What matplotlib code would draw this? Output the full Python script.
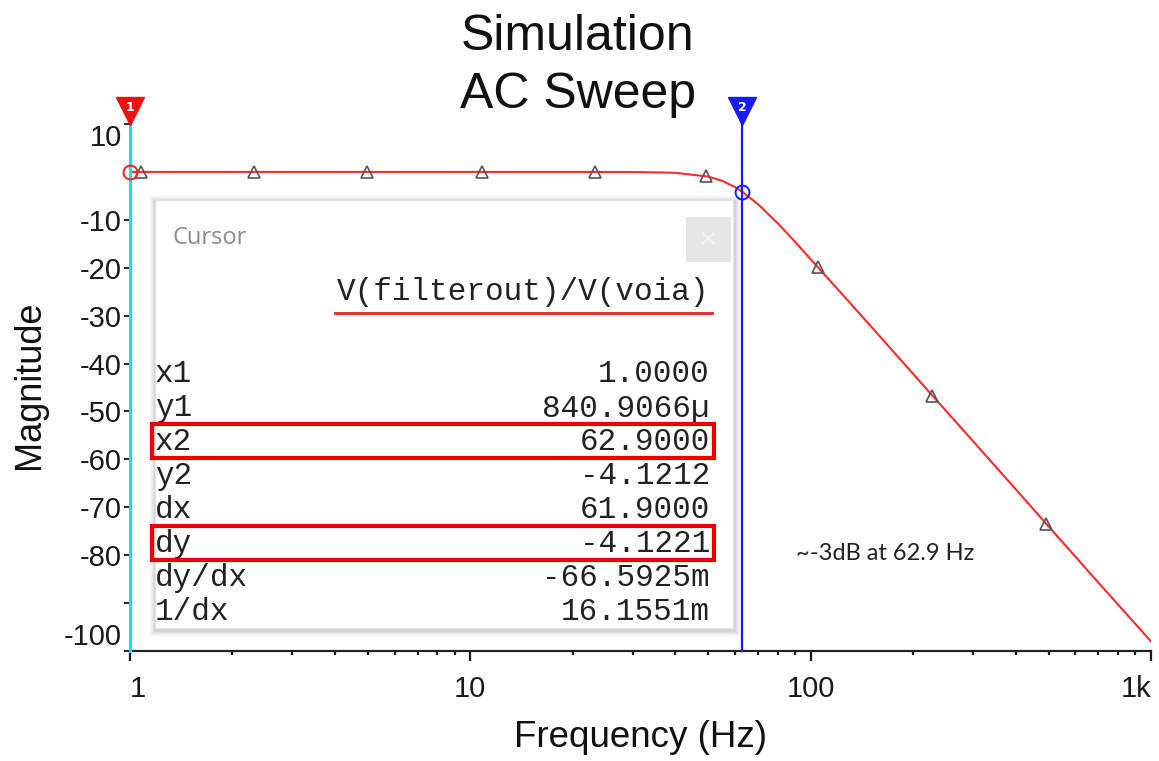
import matplotlib
matplotlib.use("Agg")
import matplotlib.pyplot as plt
from matplotlib.patches import Rectangle
from matplotlib.lines import Line2D
import matplotlib.transforms as mtransforms

# ---------------- data ----------------
freq_hz = [1, 2, 5, 10, 20, 30, 40, 50, 55, 60, 62.9, 70, 80, 90, 105,
           130, 160, 228, 300, 400, 493, 700, 1000]
magnitude_db = [0.0, 0.0, 0.0, 0.0, 0.0, -0.02, -0.18, -0.98, -1.87, -3.18,
                -4.12, -6.73, -10.7, -14.6, -19.9, -27.2, -34.4, -46.7,
                -56.2, -66.2, -73.5, -85.7, -98.0]

marker_freq = [1.08, 2.32, 4.97, 10.8, 23.2, 49.4, 105, 228, 493]
marker_mag = [0.0, 0.0, 0.0, 0.0, 0.0, -0.9, -19.9, -46.7, -73.5]

cursor1_x, cursor1_y = 1.0, 0.00084
cursor2_x, cursor2_y = 62.9, -4.1212

ytick_values = [10, -10, -20, -30, -40, -50, -60, -70, -80, -90, -100]
ytick_labels = ["10", "-10", "-20", "-30", "-40", "-50", "-60", "-70", "-80", "", "-100"]
xtick_values = [1, 10, 100, 1000]
xtick_labels = ["1", "10", "100", "1k"]

cursor_header = "V(filterout)/V(voia)"
row_names = ["x1", "y1", "x2", "y2", "dx", "dy", "dy/dx", "1/dx"]
row_values = ["1.0000", "840.9066\u00b5", "62.9000", "-4.1212", "61.9000",
              "-4.1221", "-66.5925m", "16.1551m"]
highlighted_rows = ["x2", "dy"]

title_lines = ["Simulation", "AC Sweep"]
annotation = "~-3dB at 62.9 Hz"

# ---------------- figure ----------------
W, H = 1159, 761
fig = plt.figure(figsize=(W / 100, H / 100), dpi=100)
fig.patch.set_facecolor("white")


def fx(px):
    return px / W


def fy(py):
    return 1 - py / H


ax_l, ax_r, ax_t, ax_b = 130, 1151, 124, 651
ax = fig.add_axes([fx(ax_l), fy(ax_b), (ax_r - ax_l) / W, (ax_b - ax_t) / H])
ax.set_xscale("log")
ax.set_xlim(1, 1000)
ax.set_ylim(-100, 10)
ax.set_facecolor("none")

for s in ["top", "right", "left"]:
    ax.spines[s].set_visible(False)
ax.spines["bottom"].set_linewidth(1.6)
ax.spines["bottom"].set_color("#222222")

ax.set_yticks(ytick_values)
ax.set_yticklabels(ytick_labels, fontfamily="Liberation Sans", fontsize=21)
ax.tick_params(axis="y", direction="out", length=4, width=1.3, pad=2, colors="#1a1a1a")
ylabels = ax.get_yticklabels()
ylabels[0].set_va("top")
ylabels[-1].set_va("bottom")

ax.set_xticks(xtick_values)
ax.set_xticklabels(xtick_labels, fontfamily="Liberation Sans", fontsize=21)
ax.tick_params(axis="x", which="major", direction="out", length=7, width=1.6, pad=10, colors="#1a1a1a")
ax.tick_params(axis="x", which="minor", direction="out", length=3, width=1.6, colors="#1a1a1a")
xlabels = ax.get_xticklabels()
xlabels[0].set_ha("left")
xlabels[-1].set_ha("right")

# curve
ax.plot(freq_hz, magnitude_db, color="#ff2a2a", lw=1.5, zorder=3)
ax.plot(marker_freq, marker_mag, linestyle="none", marker="^", markersize=8,
        markerfacecolor="none", markeredgecolor="#555555", markeredgewidth=1.2, zorder=4)

# cursors
ax.axvline(cursor1_x, color="#00e8f0", lw=2.2, zorder=5, clip_on=False)
ax.axvline(cursor2_x, color="#1a1aff", lw=1.6, zorder=5, clip_on=False)
trans = mtransforms.blended_transform_factory(ax.transData, ax.transAxes)
ax.plot([cursor1_x, cursor1_x], [1.0, 1.015], color="#00e8f0", lw=2.2, transform=trans, clip_on=False)
ax.plot([cursor2_x, cursor2_x], [1.0, 1.015], color="#1a1aff", lw=1.6, transform=trans, clip_on=False)
ax.plot([cursor1_x], [1.024], marker="v", markersize=20, color="#ee1111", transform=trans, clip_on=False, zorder=6)
ax.plot([cursor2_x], [1.024], marker="v", markersize=20, color="#1a1aff", transform=trans, clip_on=False, zorder=6)
ax.text(cursor1_x, 1.031, "1", color="white", fontsize=9, fontweight="bold", ha="center", va="center",
        transform=trans, zorder=7)
ax.text(cursor2_x, 1.031, "2", color="white", fontsize=9, fontweight="bold", ha="center", va="center",
        transform=trans, zorder=7)
ax.plot([cursor1_x], [cursor1_y], marker="o", markersize=10, markerfacecolor="none",
        markeredgecolor="#ee2222", markeredgewidth=1.4, clip_on=False, zorder=6)
ax.plot([cursor2_x], [cursor2_y], marker="o", markersize=10, markerfacecolor="none",
        markeredgecolor="#1a1aff", markeredgewidth=1.4, clip_on=False, zorder=6)

# ---------------- cursor window ----------------
bx0, by0, bx1, by1 = 155, 200, 733, 628
for i, a in enumerate([0.012, 0.018, 0.025, 0.032, 0.04, 0.05]):
    d = 7 - i
    fig.patches.append(Rectangle((fx(bx0 - d + 1), fy(by1 + d + 2)), (bx1 - bx0 + 2 * d) / W,
                                 (by1 - by0 + 2 * d) / H, transform=fig.transFigure,
                                 facecolor="black", edgecolor="none", alpha=a, zorder=8))
fig.patches.append(Rectangle((fx(bx0), fy(by1)), (bx1 - bx0) / W, (by1 - by0) / H,
                             transform=fig.transFigure, facecolor="white",
                             edgecolor="#e4e4e4", lw=1, zorder=9))
# close button
fig.patches.append(Rectangle((fx(686), fy(262)), 45 / W, 45 / H, transform=fig.transFigure,
                             facecolor="#e6e6e6", edgecolor="none", zorder=10))
fig.text(fx(708.5), fy(240), "\u00d7", color="#f7f7f7", fontsize=16, ha="center", va="center", zorder=11)
fig.text(fx(172), fy(238), "Cursor", color="#8c8c8c", fontsize=17, fontfamily="Open Sans",
         ha="left", va="center", zorder=11)

mono = "Liberation Mono"
fig.text(fx(709), fy(300), cursor_header, fontfamily=mono, fontsize=22.3, color="#222222",
         ha="right", va="baseline", zorder=11)
fig.lines.append(Line2D([fx(335), fx(712)], [fy(313), fy(313)], transform=fig.transFigure,
                        color="#ee2222", lw=2, zorder=11))

row_top = 373
row_step = 34
for i, (name, val) in enumerate(zip(row_names, row_values)):
    yc = row_top + i * row_step
    fig.text(fx(155), fy(yc + 9), name, fontfamily=mono, fontsize=22.3, color="#222222",
             ha="left", va="baseline", zorder=11)
    fig.text(fx(710), fy(yc + 9), val, fontfamily=mono, fontsize=22.3, color="#222222",
             ha="right", va="baseline", zorder=11)
    if name in highlighted_rows:
        fig.patches.append(Rectangle((fx(152), fy(yc + 17)), (714 - 152) / W, 34 / H,
                                     transform=fig.transFigure, facecolor="none",
                                     edgecolor="#ee0000", lw=3, zorder=12))

# ---------------- texts ----------------
fig.text(fx(578), fy(50), title_lines[0], fontfamily="Liberation Sans", fontsize=36,
         ha="center", va="baseline", color="#111111")
fig.text(fx(578), fy(108), title_lines[1], fontfamily="Liberation Sans", fontsize=36,
         ha="center", va="baseline", color="#111111")
fig.text(fx(640), fy(747), "Frequency (Hz)", fontfamily="Liberation Sans", fontsize=26.5,
         ha="center", va="baseline", color="#111111")
fig.text(fx(30), fy(385), "Magnitude", fontfamily="Liberation Sans", fontsize=26,
         ha="center", va="center", rotation=90, color="#111111")
fig.text(fx(796), fy(553), annotation, fontfamily="Lato", fontsize=17,
         ha="left", va="center", color="#222222")

fig.savefig("out.png", dpi=100, facecolor="white")
